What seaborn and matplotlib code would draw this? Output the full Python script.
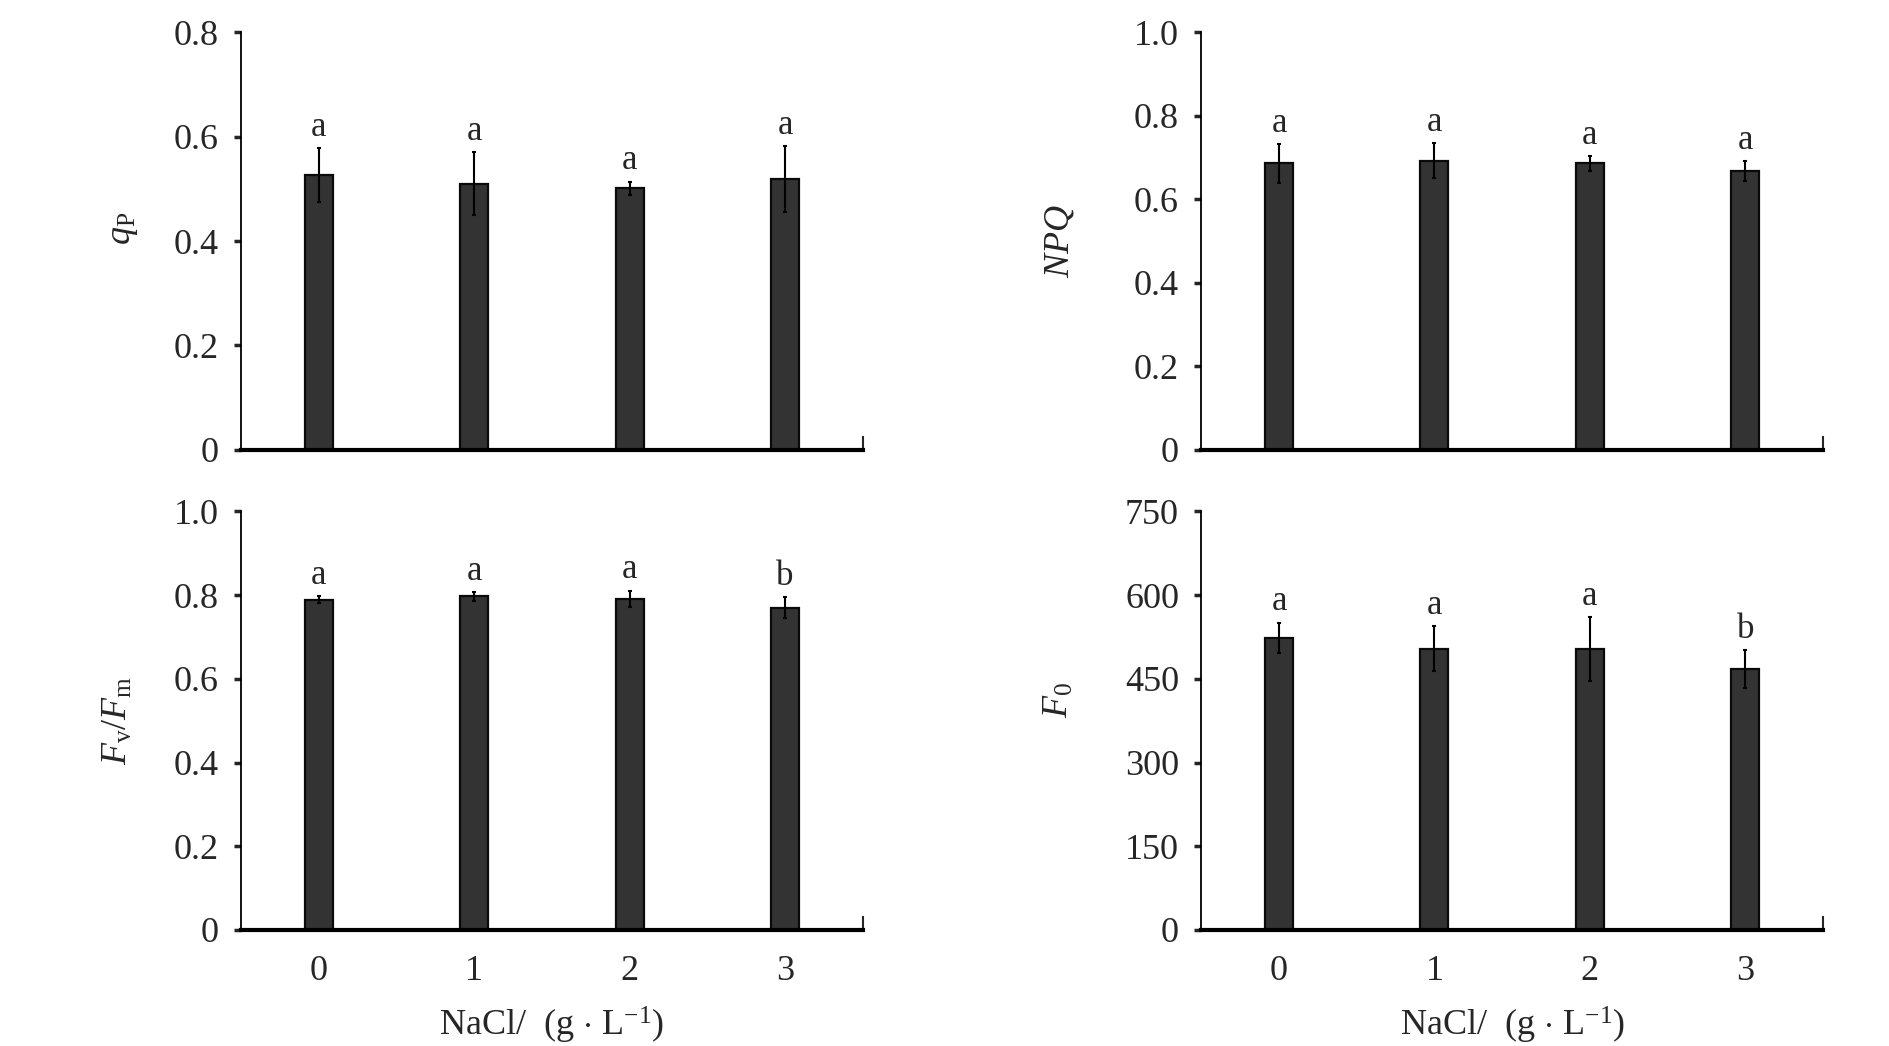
import matplotlib
matplotlib.use("Agg")
import matplotlib.pyplot as plt
import seaborn as sns
import pandas as pd

categories = ["0", "1", "2", "3"]

qp_mean = [0.526, 0.510, 0.501, 0.519]
qp_err = [0.052, 0.060, 0.013, 0.063]
qp_letters = ["a", "a", "a", "a"]

npq_mean = [0.686, 0.692, 0.686, 0.668]
npq_err = [0.047, 0.042, 0.018, 0.024]
npq_letters = ["a", "a", "a", "a"]

fvfm_mean = [0.789, 0.797, 0.791, 0.770]
fvfm_err = [0.008, 0.010, 0.020, 0.025]
fvfm_letters = ["a", "a", "a", "b"]

f0_mean = [524, 504, 504, 468]
f0_err = [27, 40, 57, 34]
f0_letters = ["a", "a", "a", "b"]

xlabel_text = r"NaCl/  (g $\cdot$ L$^{-1}$)"

sns.set_style("ticks")
plt.rcParams["font.family"] = ["Liberation Serif", "DejaVu Serif"]
plt.rcParams["mathtext.fontset"] = "custom"
plt.rcParams["mathtext.rm"] = "Liberation Serif"
plt.rcParams["mathtext.it"] = "Liberation Serif:italic"
plt.rcParams["mathtext.bf"] = "Liberation Serif:bold"

FS = 26
fig = plt.figure(figsize=(18.9, 10.46), dpi=100)

W = 0.329
panels = [
    dict(rect=[0.1275, 0.570, W, 0.399], mean=qp_mean, err=qp_err, let=qp_letters,
         ylim=(0, 0.8), ticks=[0, 0.2, 0.4, 0.6, 0.8], labels=["0", "0.2", "0.4", "0.6", "0.8"],
         ylabel=r"$q_{\mathrm{P}}$", lx=-0.163, ly=0.53, xt=False),
    dict(rect=[0.6356, 0.570, W, 0.399], mean=npq_mean, err=npq_err, let=npq_letters,
         ylim=(0, 1.0), ticks=[0, 0.2, 0.4, 0.6, 0.8, 1.0], labels=["0", "0.2", "0.4", "0.6", "0.8", "1.0"],
         ylabel=r"$NPQ$", lx=-0.20, ly=0.5, xt=False),
    dict(rect=[0.1275, 0.111, W, 0.400], mean=fvfm_mean, err=fvfm_err, let=fvfm_letters,
         ylim=(0, 1.0), ticks=[0, 0.2, 0.4, 0.6, 0.8, 1.0], labels=["0", "0.2", "0.4", "0.6", "0.8", "1.0"],
         ylabel=r"$F_{\mathrm{v}}/F_{\mathrm{m}}$", lx=-0.171, ly=0.5, xt=True),
    dict(rect=[0.6356, 0.111, W, 0.400], mean=f0_mean, err=f0_err, let=f0_letters,
         ylim=(0, 750), ticks=[0, 150, 300, 450, 600, 750], labels=["0", "150", "300", "450", "600", "750"],
         ylabel=r"$F_{0}$", lx=-0.202, ly=0.55, xt=True),
]

for p in panels:
    ax = fig.add_axes(p["rect"])
    df = pd.DataFrame({"NaCl": categories, "val": p["mean"]})
    sns.barplot(data=df, x="NaCl", y="val", ax=ax, color="#333333", width=0.18,
                edgecolor="#0a0a0a", linewidth=1.6, saturation=1, errorbar=None)
    xs = range(len(categories))
    ax.errorbar(list(xs), p["mean"], yerr=p["err"], fmt="none", ecolor="black",
                elinewidth=1.5, capsize=1.5, capthick=1.5, zorder=5)
    for i, (m, e, l) in enumerate(zip(p["mean"], p["err"], p["let"])):
        ax.annotate(l, xy=(i, m + e), xytext=(0, 3), textcoords="offset points",
                    ha="center", va="bottom", fontsize=FS - 1)
    ax.set_xlim(-0.5, 3.5)
    ax.set_ylim(*p["ylim"])
    ax.set_yticks(p["ticks"])
    ax.set_yticklabels(p["labels"])
    ax.tick_params(axis="y", direction="out", length=5, width=2.5, labelsize=FS, pad=11)
    ax.set_xticks([0, 1, 2, 3])
    ax.set_xticks([3.5], minor=True)
    ax.tick_params(axis="x", which="minor", direction="in", length=10, width=1.5)
    if p["xt"]:
        ax.tick_params(axis="x", which="major", length=0, labelsize=FS, pad=18)
        ax.set_xlabel(xlabel_text, fontsize=FS, labelpad=12)
    else:
        ax.tick_params(axis="x", which="major", length=0, labelbottom=False)
        ax.set_xlabel("")
    ax.set_ylabel(p["ylabel"], fontsize=FS)
    ax.yaxis.set_label_coords(p["lx"], p["ly"])
    for s in ["top", "right"]:
        ax.spines[s].set_visible(False)
    ax.spines["left"].set_linewidth(1.3)
    ax.spines["bottom"].set_linewidth(3)
    ax.spines["left"].set_color("black")
    ax.spines["bottom"].set_color("black")

fig.savefig("out.png", dpi=100, facecolor="white")
